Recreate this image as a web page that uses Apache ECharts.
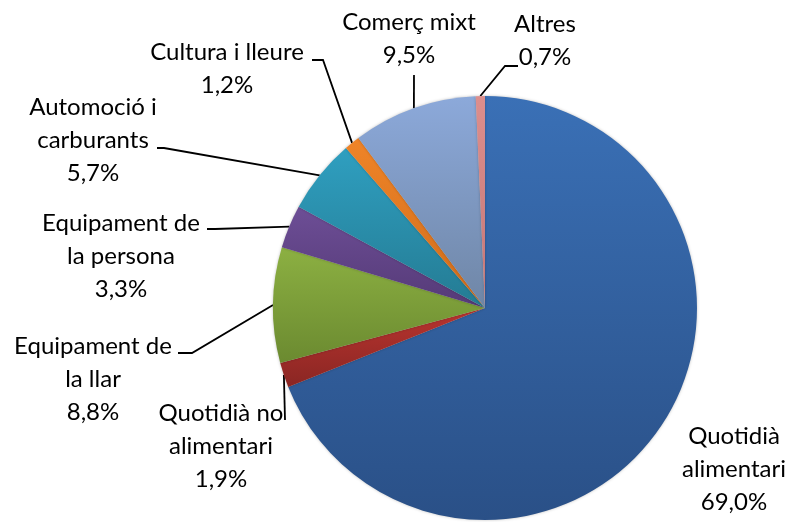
<!DOCTYPE html>
<html>
<head>
<meta charset="utf-8">
<script src="https://cdn.jsdelivr.net/npm/echarts@6/dist/echarts.min.js"></script>
<style>html,body{margin:0;padding:0;background:#fff}#c{width:790px;height:522px}</style>
</head>
<body>
<div id="c"></div>
<script>
var categories = ["Quotidià\nalimentari", "Quotidià no\nalimentari", "Equipament de\nla llar", "Equipament de\nla persona", "Automoció i\ncarburants", "Cultura i lleure", "Comerç mixt", "Altres"];
var values = [69.0, 1.9, 8.8, 3.3, 5.7, 1.2, 9.5, 0.7];
var colorsTop = ["#3a70b6", "#b9342f", "#8cb042", "#6d4e96", "#2f9fc0", "#ef8428", "#8ca9da", "#dc8e8d"];
var colorsBottom = ["#2a5087", "#8a2623", "#6b8a30", "#553a77", "#247b93", "#d06d1b", "#6f86a6", "#c57777"];

// label block anchors and leader elbows (layout, not data)
var labelPos = [
  {x: 734, y: 469, pts: null},
  {x: 221, y: 446, pts: [[285, 420], [285, 420]]},
  {x: 93,  y: 379, pts: [[192, 353], [178, 353]]},
  {x: 121, y: 256, pts: [[215, 229], [207, 229]]},
  {x: 93,  y: 140, pts: [[164, 148], [157, 148]]},
  {x: 227, y: 69,  pts: [[323, 60], [312, 60]]},
  {x: 409, y: 39,  pts: [[414, 75], [414, 75]]},
  {x: 545, y: 41,  pts: [[505, 66], [518, 66]]}
];

var data = categories.map(function (n, i) {
  return {
    name: n,
    value: values[i],
    itemStyle: {
      color: new echarts.graphic.LinearGradient(0, 0, 0, 1, [
        {offset: 0, color: colorsTop[i]},
        {offset: 1, color: colorsBottom[i]}
      ])
    },
    labelLine: {show: labelPos[i].pts !== null}
  };
});

var chart = echarts.init(document.getElementById('c'), null, {renderer: 'canvas'});
chart.setOption({
  animation: false,
  series: [{
    type: 'pie',
    center: [485, 308],
    radius: 212,
    startAngle: 90,
    clockwise: true,
    avoidLabelOverlap: false,
    data: data,
    itemStyle: {borderWidth: 0, shadowBlur: 3, shadowColor: 'rgba(0,0,0,0.25)'},
    label: {
      show: true,
      position: 'outside',
      fontFamily: 'Lato',
      fontSize: 24,
      lineHeight: 33,
      color: '#000',
      align: 'center',
      width: 300,
      overflow: 'none',
      formatter: function (p) {
        return p.name + '\n' + p.value.toFixed(1).replace('.', ',') + '%';
      }
    },
    labelLine: {show: true, lineStyle: {color: '#000', width: 1.8}, length: 10, length2: 10},
    labelLayout: function (params) {
      var lp = labelPos[params.dataIndex];
      var res = {x: lp.x, y: lp.y, align: 'center', verticalAlign: 'middle'};
      if (lp.pts && params.labelLinePoints) {
        var s = params.labelLinePoints[0];
        res.labelLinePoints = [[s[0], s[1]], lp.pts[0], lp.pts[1]];
      }
      return res;
    }
  }]
});
</script>
</body>
</html>
